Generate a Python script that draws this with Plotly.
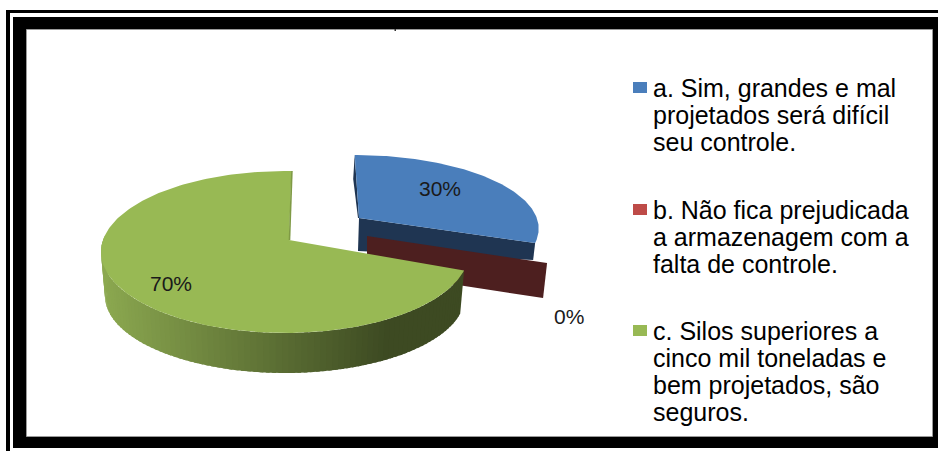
import math
import plotly.graph_objects as go

# ---- data ----
categories = ["a", "b", "c"]
values = [30, 0, 70]
slice_labels = ["30%", "0%", "70%"]
legend_lines = [
    ["a. Sim, grandes e mal", "projetados será difícil", "seu controle."],
    ["b. Não fica prejudicada", "a armazenagem com a", "falta de controle."],
    ["c. Silos superiores a", "cinco mil toneladas e", "bem projetados, são", "seguros."],
]

# ---- styles / geometry (pixel space of the 3-D projection) ----
W, H = 938, 451
BLUE, RED, GREEN = "#4a7ebb", "#be4b48", "#98b954"
BLUE_WALL, RED_WALL = "#1f3552", "#4d1f1f"
FONT = "Liberation Sans"

total = sum(values)
ang_a = 360 * values[0] / total            # end of blue slice, clockwise from 12 o'clock
ang_b = ang_a + 360 * values[1] / total    # red slice has zero width
ang_c = ang_b + 360 * values[2] / total


def warp(t):
    """perspective correction of the drawn angle"""
    r = math.radians(t)
    return t + 2 * math.cos(r) - 4.3 * math.sin(r)


def rim(t, e):
    p = math.radians(warp(t) + e.get("rot", 0))
    return e["cx"] + e["a"] * math.sin(p), e["cy"] - e["b"] * math.cos(p)


def arc(t0, t1, e, n=120):
    pts = [rim(t0 + (t1 - t0) * i / n, e) for i in range(n + 1)]
    return [p[0] for p in pts], [p[1] for p in pts]


GREEN_TOP = dict(cx=285, cy=252, a=184, b=81)
GREEN_BOT = dict(cx=285, cy=296, a=180, b=77)
GREEN_APEX = (289, 240)
BLUE_TOP = dict(cx=354.7, cy=228.6, a=184, b=73.6, rot=-2)
BLUE_APEX = (359, 218)
WALL_DROP = 33
RED_APEX = (367, 236)
RED_RIM = dict(cx=368, cy=244, a=184, b=83)

fig = go.Figure()


def poly(xs, ys, fill, line=None, width=0):
    fig.add_trace(go.Scatter(
        x=xs, y=ys, mode="lines", fill="toself", fillcolor=fill,
        line=dict(color=line or fill, width=width), hoverinfo="skip", showlegend=False))


def mix(c0, c1, t):
    t = max(0.0, min(1.0, t))
    return "rgb(%d,%d,%d)" % tuple(round(a + (b - a) * t) for a, b in zip(c0, c1))


# blue slice: inner walls, then top
bx, by = rim(ang_a, BLUE_TOP)
poly([BLUE_APEX[0], bx, bx - 2, BLUE_APEX[0] - 1],
     [BLUE_APEX[1], by, by + 17, BLUE_APEX[1] + WALL_DROP], BLUE_WALL)
tx, ty = rim(0, BLUE_TOP)
poly([tx, tx - 1.5, BLUE_APEX[0] - 1, BLUE_APEX[0]],
     [ty, ty + 24, BLUE_APEX[1], BLUE_APEX[1]], BLUE_WALL)
xs, ys = arc(0, ang_a, BLUE_TOP)
poly([BLUE_APEX[0]] + xs, [BLUE_APEX[1]] + ys, BLUE)

# red slice: zero-width, only its radial wall shows
rx, ry = rim(ang_b, RED_RIM)
poly([RED_APEX[0], rx, rx - 4, RED_APEX[0]],
     [RED_APEX[1], ry, ry + 35, RED_APEX[1] + 35], RED_WALL)

# green slice: outer wall with a shading gradient, overlapping strips hide the seams
n = 90
t0, t1 = ang_b, 276
step = (t1 - t0) / n
for i in range(n):
    a0 = t0 + step * i
    a1 = a0 + step * 1.6
    x0, y0 = rim(a0, GREEN_TOP)
    x1, y1 = rim(a1, GREEN_TOP)
    x2, y2 = rim(a1, GREEN_BOT)
    x3, y3 = rim(a0, GREEN_BOT)
    col = mix((0x8c, 0xa9, 0x50), (0x3d, 0x4a, 0x22), (x0 - 101) / (390 - 101))
    poly([x1, x0, x3, x2], [y1, y0, y3, y2], col)

# green top
xs, ys = arc(ang_b, ang_c, GREEN_TOP, 200)
poly([GREEN_APEX[0]] + xs, [GREEN_APEX[1]] + ys, GREEN)
ex, ey = rim(ang_c, GREEN_TOP)
fig.add_trace(go.Scatter(x=[ex + 0.5, GREEN_APEX[0] + 0.5], y=[ey, GREEN_APEX[1]], mode="lines",
                         line=dict(color="#7f9a45", width=1.6), hoverinfo="skip", showlegend=False))

# data labels
label_pos = [(440, 188), (569, 316), (171, 283)]
annotations = [
    dict(x=x, y=y, text=t, showarrow=False, xanchor="center", yanchor="middle",
         font=dict(family=FONT, size=21, color="#1a1a1a"))
    for t, (x, y) in zip(slice_labels, label_pos)
]

# legend text, one line at a time
legend_tops = [88, 210, 331]
LINE = 27
for lines, top in zip(legend_lines, legend_tops):
    for j, t in enumerate(lines):
        annotations.append(dict(x=651, y=top + j * LINE, text=t, showarrow=False,
                                xanchor="left", yanchor="middle",
                                font=dict(family=FONT, size=25, color="#000000")))

shapes = []


def rect(x0, y0, x1, y1, fill, line=None):
    shapes.append(dict(type="rect", xref="x", yref="y", x0=x0, y0=y0, x1=x1, y1=y1,
                       fillcolor=fill, line=dict(color=line or fill, width=1 if line else 0),
                       layer="below"))


# frame
rect(6, 10, W, 13, "#000000")
rect(6, 10, 10, H, "#000000")
rect(13, 17, W, 448, "#000000")
rect(26.5, 29.5, 932.5, 436.5, "#ffffff", "#9a9a9a")
rect(394.5, 29, 396, 31, "#333333")

# legend swatches
for col, top in zip([BLUE, RED, GREEN], legend_tops):
    rect(633, top - 6, 647, top + 5, col)

fig.update_layout(
    width=W, height=H, autosize=False,
    margin=dict(l=0, r=0, t=0, b=0),
    paper_bgcolor="#ffffff", plot_bgcolor="#ffffff",
    xaxis=dict(range=[0, W], visible=False, fixedrange=True),
    yaxis=dict(range=[H, 0], visible=False, fixedrange=True),
    annotations=annotations, shapes=shapes, showlegend=False,
)
fig.write_html("out.html", config=dict(displayModeBar=False),
               post_script="document.body.style.margin='0';document.body.style.overflow='hidden';")
